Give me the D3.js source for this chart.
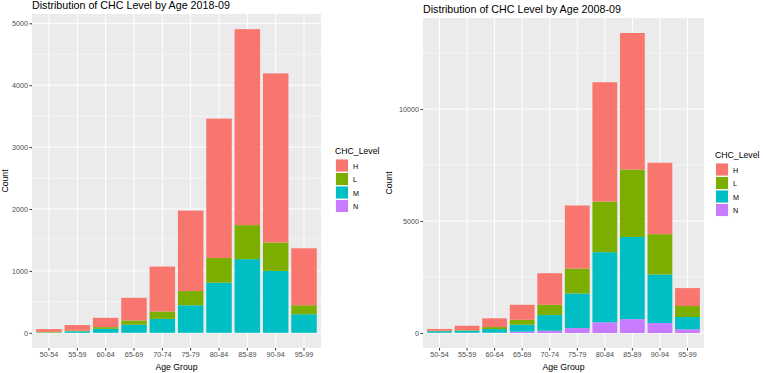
<!DOCTYPE html>
<html>
<head>
<meta charset="utf-8">
<script src="https://cdn.jsdelivr.net/npm/d3@7"></script>
<style>
  body { margin: 0; background: #fff; }
  svg { display: block; font-family: "Liberation Sans", Arial, sans-serif; }
</style>
</head>
<body>
<div id="chart"></div>
<script>
// categories
var ageGroups = ["50-54", "55-59", "60-64", "65-69", "70-74", "75-79", "80-84", "85-89", "90-94", "95-99"];
var levels = ["H", "L", "M", "N"];
var levelColors = ["#F8766D", "#7CAE00", "#00BFC4", "#C77CFF"];

// 2018-09 counts per level
var h2018 = [45, 90, 150, 365, 725, 1300, 2250, 3165, 2730, 920];
var l2018 = [10, 10, 27, 70, 120, 230, 400, 550, 460, 145];
var m2018 = [5, 25, 65, 130, 225, 445, 810, 1190, 1000, 300];
var n2018 = [0, 0, 0, 0, 0, 0, 0, 0, 0, 0];

// 2008-09 counts per level
var h2008 = [80, 200, 390, 670, 1410, 2820, 5330, 6100, 3190, 800];
var l2008 = [20, 20, 90, 220, 460, 1110, 2260, 3010, 1800, 490];
var m2008 = [70, 95, 160, 310, 700, 1545, 3130, 3670, 2170, 550];
var n2008 = [10, 10, 15, 60, 100, 220, 480, 620, 445, 165];

// y ticks
var ticks2018 = [0, 1000, 2000, 3000, 4000, 5000];
var minor2018 = [500, 1500, 2500, 3500, 4500];
var ticks2008 = [0, 5000, 10000];
var minor2008 = [2500, 7500, 12500];

var svg = d3.select("#chart").append("svg")
  .attr("width", 763)
  .attr("height", 373);

function buildRows(h, l, m, n) {
  return ageGroups.map(function(g, i) {
    return {group: g, H: h[i], L: l[i], M: m[i], N: n[i]};
  });
}

function drawPanel(cfg) {
  var rows = buildRows(cfg.h, cfg.l, cfg.m, cfg.n);
  var p = cfg.plot;

  var g = svg.append("g");

  // title
  g.append("text")
    .attr("x", p.left)
    .attr("y", cfg.titleY)
    .style("font-size", "10.7px")
    .style("fill", "#000")
    .text(cfg.title);

  // panel background
  g.append("rect")
    .attr("x", p.left).attr("y", p.top)
    .attr("width", p.right - p.left).attr("height", p.bottom - p.top)
    .style("fill", "#EBEBEB");

  var x = d3.scaleBand()
    .domain(ageGroups)
    .range([p.left, p.right])
    .paddingInner(0.1)
    .paddingOuter(0.15);

  var stack = d3.stack().keys(["N", "M", "L", "H"]);
  var series = stack(rows);
  var maxTotal = d3.max(rows, function(d) { return d.H + d.L + d.M + d.N; });

  var y = d3.scaleLinear()
    .domain([-0.05 * maxTotal, 1.05 * maxTotal])
    .range([p.bottom, p.top]);

  // minor grid
  g.selectAll(".minor")
    .data(cfg.minor.filter(function(v) { return y(v) > p.top; }))
    .enter().append("line")
    .attr("x1", p.left).attr("x2", p.right)
    .attr("y1", function(d) { return y(d); })
    .attr("y2", function(d) { return y(d); })
    .style("stroke", "#fff").style("stroke-width", 0.5);

  // major grid
  g.selectAll(".majorY")
    .data(cfg.ticks)
    .enter().append("line")
    .attr("x1", p.left).attr("x2", p.right)
    .attr("y1", function(d) { return y(d); })
    .attr("y2", function(d) { return y(d); })
    .style("stroke", "#fff").style("stroke-width", 1);

  g.selectAll(".majorX")
    .data(ageGroups)
    .enter().append("line")
    .attr("x1", function(d) { return x(d) + x.bandwidth() / 2; })
    .attr("x2", function(d) { return x(d) + x.bandwidth() / 2; })
    .attr("y1", p.top).attr("y2", p.bottom)
    .style("stroke", "#fff").style("stroke-width", 1);

  // bars
  var colorOf = d3.scaleOrdinal().domain(levels).range(levelColors);
  g.selectAll(".layer")
    .data(series)
    .enter().append("g")
    .style("fill", function(d) { return colorOf(d.key); })
    .selectAll("rect")
    .data(function(d) { return d; })
    .enter().append("rect")
    .attr("x", function(d) { return x(d.data.group); })
    .attr("width", x.bandwidth())
    .attr("y", function(d) { return y(d[1]); })
    .attr("height", function(d) { return Math.max(0, y(d[0]) - y(d[1])); });

  // y axis
  var yAxis = g.append("g")
    .attr("transform", "translate(" + p.left + ",0)")
    .call(d3.axisLeft(y).tickValues(cfg.ticks).tickFormat(d3.format("d")).tickSize(2.5).tickPadding(1.5));
  yAxis.select(".domain").remove();
  yAxis.selectAll("line").style("stroke", "#333");
  yAxis.selectAll("text").style("fill", "#4D4D4D").style("font-size", "7.2px")
    .style("font-family", "Liberation Sans, Arial, sans-serif");

  // x axis
  var xAxis = g.append("g")
    .attr("transform", "translate(0," + p.bottom + ")")
    .call(d3.axisBottom(x).tickSize(2.5).tickPadding(1.5));
  xAxis.select(".domain").remove();
  xAxis.selectAll("line").style("stroke", "#333");
  xAxis.selectAll("text").style("fill", "#4D4D4D").style("font-size", "7.2px")
    .style("font-family", "Liberation Sans, Arial, sans-serif");

  // axis titles
  g.append("text")
    .attr("x", (p.left + p.right) / 2)
    .attr("y", 369.5)
    .attr("text-anchor", "middle")
    .style("font-size", "8.7px")
    .text("Age Group");

  g.append("text")
    .attr("transform", "translate(" + cfg.yTitleX + "," + ((p.top + p.bottom) / 2) + ") rotate(-90)")
    .attr("text-anchor", "middle")
    .style("font-size", "8.7px")
    .text("Count");

  // legend
  var lg = g.append("g").attr("transform", "translate(" + cfg.legend.x + "," + cfg.legend.y + ")");
  lg.append("text")
    .attr("x", 0).attr("y", 0)
    .style("font-size", "8.7px")
    .text("CHC_Level");
  levels.forEach(function(k, i) {
    lg.append("rect")
      .attr("x", 0.5).attr("y", 5 + i * 13.5)
      .attr("width", 13).attr("height", 13)
      .style("fill", "#F2F2F2");
    lg.append("rect")
      .attr("x", 1).attr("y", 5.5 + i * 13.5)
      .attr("width", 12).attr("height", 12)
      .style("fill", colorOf(k));
    lg.append("text")
      .attr("x", 18).attr("y", 14.5 + i * 13.5)
      .style("font-size", "7.2px")
      .style("fill", "#000")
      .text(k);
  });
}

drawPanel({
  title: "Distribution of CHC Level by Age 2018-09",
  titleY: 8.5,
  plot: {left: 32, right: 321, top: 14, bottom: 348},
  h: h2018, l: l2018, m: m2018, n: n2018,
  ticks: ticks2018, minor: minor2018,
  yTitleX: 8,
  legend: {x: 335, y: 154}
});

drawPanel({
  title: "Distribution of CHC Level by Age 2008-09",
  titleY: 12.5,
  plot: {left: 423, right: 704, top: 18, bottom: 348},
  h: h2008, l: l2008, m: m2008, n: n2008,
  ticks: ticks2008, minor: minor2008,
  yTitleX: 392,
  legend: {x: 715, y: 158}
});
</script>
</body>
</html>
